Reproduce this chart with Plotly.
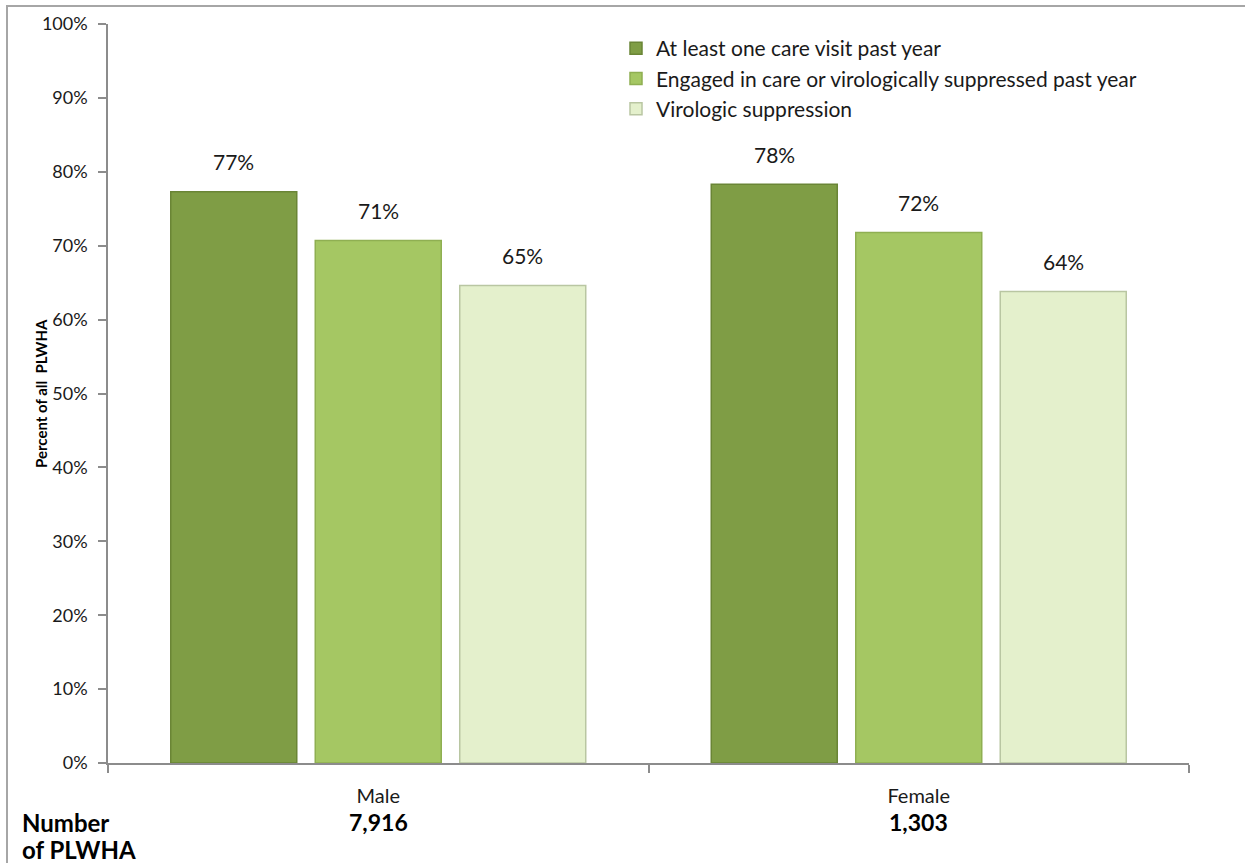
import plotly.graph_objects as go

# Care continuum by sex
categories = ["Male", "Female"]
series_names = [
    "At least one care visit past year",
    "Engaged in care or virologically suppressed past year",
    "Virologic suppression",
]
care_visit = [77.3, 78.3]
engaged = [70.7, 71.8]
suppressed = [64.6, 63.8]
plwha_counts = ["7,916", "1,303"]

values = [care_visit, engaged, suppressed]
fills = ["#7F9D45", "#A5C763", "#E4F0CC"]
edges = ["#6A8536", "#8FAF52", "#B9C6A2"]

W, H = 1245, 863
ML, MR, MT, MB = 108, 56, 24, 100
plot_w = W - ML - MR
plot_h = H - MT - MB
BARGAP = 0.198
BARGROUPGAP = 0.128

FONT = "Lato, Carlito, Calibri, sans-serif"


def py_to_paper(py):
    """Convert a pixel row of the page to paper y."""
    return (H - MB - py) / plot_h


def px_to_paper(px):
    """Convert a pixel column of the page to paper x."""
    return (px - ML) / plot_w


fig = go.Figure()
for name, vals, fc, ec in zip(series_names, values, fills, edges):
    fig.add_trace(go.Bar(
        x=categories, y=vals, name=name,
        marker=dict(color=fc, line=dict(color=ec, width=1.5)),
        hoverinfo="skip",
    ))

# value labels above each bar
cat_px = plot_w / len(categories)
slot_px = cat_px * (1 - BARGAP) / len(series_names)
annotations = []
for j, vals in enumerate(values):
    for cat, v in zip(categories, vals):
        annotations.append(dict(
            x=cat, y=v, xref="x", yref="y",
            text=f"{v:.0f}%", showarrow=False,
            xshift=(j - 1) * slot_px, yshift=30, yanchor="middle",
            font=dict(family=FONT, size=21, color="#1a1a1a"),
        ))

# participant counts under each category
for cat, n in zip(categories, plwha_counts):
    annotations.append(dict(
        x=cat, y=py_to_paper(822), xref="x", yref="paper",
        text=f"<b>{n}</b>", showarrow=False, yanchor="middle",
        font=dict(family=FONT, size=23, color="#000000"),
    ))
annotations.append(dict(
    x=px_to_paper(20), y=py_to_paper(822), xref="paper", yref="paper",
    text="<b>Number</b>", showarrow=False, xanchor="left", yanchor="middle",
    font=dict(family=FONT, size=24, color="#000000"),
))
annotations.append(dict(
    x=px_to_paper(20), y=py_to_paper(849), xref="paper", yref="paper",
    text="<b>of PLWHA</b>", showarrow=False, xanchor="left", yanchor="middle",
    font=dict(family=FONT, size=24, color="#000000"),
))
annotations.append(dict(
    x=px_to_paper(30), y=py_to_paper(394), xref="paper", yref="paper",
    text="<b>Percent of all  PLWHA</b>", showarrow=False, textangle=-90,
    font=dict(family=FONT, size=15, color="#000000"),
))

# outer chart frame
frame_l = px_to_paper(7)
frame_t = py_to_paper(6)
shapes = [dict(
    type="path", xref="paper", yref="paper",
    path=f"M {frame_l} -0.3 L {frame_l} {frame_t} L 1.2 {frame_t}",
    line=dict(color="#A6A6A6", width=2),
)]

fig.update_layout(
    width=W, height=H,
    margin=dict(l=ML, r=MR, t=MT, b=MB, autoexpand=False),
    paper_bgcolor="white", plot_bgcolor="white",
    barmode="group", bargap=BARGAP, bargroupgap=BARGROUPGAP,
    font=dict(family=FONT, color="#1a1a1a"),
    showlegend=True,
    legend=dict(
        x=px_to_paper(616), y=py_to_paper(28),
        xanchor="left", yanchor="top",
        font=dict(family=FONT, size=21, color="#1a1a1a"),
        bgcolor="rgba(0,0,0,0)", tracegroupgap=0, itemwidth=30,
    ),
    annotations=annotations,
    shapes=shapes,
    xaxis=dict(
        showgrid=False, showline=True, linecolor="#8C8C8C", linewidth=1.5,
        ticks="outside", tickson="boundaries", ticklen=8, tickcolor="#8C8C8C",
        tickwidth=1.5, tickfont=dict(family=FONT, size=20, color="#1a1a1a"),
        ticklabelstandoff=14, zeroline=False,
    ),
    yaxis=dict(
        range=[0, 100], tickvals=list(range(0, 101, 10)),
        ticktext=[f"{t}%" for t in range(0, 101, 10)],
        showgrid=False, showline=True, linecolor="#8C8C8C", linewidth=1.5,
        ticks="outside", ticklen=8, tickcolor="#8C8C8C", tickwidth=1.5,
        tickfont=dict(family=FONT, size=18, color="#1a1a1a"),
        ticklabelstandoff=7, zeroline=False,
    ),
)

fig.write_html("out.html")
